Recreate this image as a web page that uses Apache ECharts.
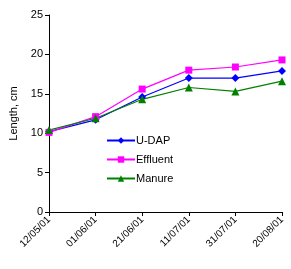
<!DOCTYPE html>
<html>
<head>
<meta charset="utf-8">
<script src="https://cdn.jsdelivr.net/npm/echarts@6/dist/echarts.min.js"></script>
<style>
  html, body { margin: 0; padding: 0; background: #fff; }
  #chart { width: 291px; height: 269px; }
</style>
</head>
<body>
<div id="chart"></div>
<script>
// 数据
const categories = ["12/05/01", "01/06/01", "21/06/01", "11/07/01", "31/07/01", "20/08/01"];
const uDap = [10.2, 11.7, 14.6, 17.0, 17.0, 17.9];
const effluent = [10.1, 12.1, 15.6, 18.0, 18.4, 19.3];
const manure = [10.4, 11.9, 14.3, 15.8, 15.3, 16.6];
const yTicks = [0, 5, 10, 15, 20, 25];

const font = "Liberation Sans, Arial, sans-serif";

const makeSeries = (name, data, color, symbol, size) => ({
  name,
  type: "line",
  data,
  symbol,
  symbolSize: size,
  showSymbol: true,
  lineStyle: { color, width: 1.2 },
  itemStyle: { color },
  animation: false,
});

const chart = echarts.init(document.getElementById("chart"), null, { renderer: "canvas" });
chart.setOption({
  backgroundColor: "#fff",
  animation: false,
  textStyle: { fontFamily: font },
  grid: { left: 49, top: 15, right: 9, bottom: 57, containLabel: false },
  legend: {
    orient: "vertical",
    left: 101,
    top: 130,
    itemWidth: 28,
    itemHeight: 8,
    itemGap: 8,
    textStyle: { fontFamily: font, fontSize: 11, color: "#000", padding: [0, 0, 0, -4] },
    data: ["U-DAP", "Effluent", "Manure"],
  },
  xAxis: {
    type: "category",
    data: categories,
    boundaryGap: false,
    axisLine: { lineStyle: { color: "#000", width: 1 } },
    axisTick: { show: true, length: 4, lineStyle: { color: "#000" } },
    axisLabel: { rotate: 45, color: "#000", fontSize: 10, fontFamily: font, margin: 6 },
    splitLine: { show: false },
  },
  yAxis: {
    type: "value",
    min: yTicks[0],
    max: yTicks[yTicks.length - 1],
    interval: 5,
    name: "Length, cm",
    nameLocation: "middle",
    nameRotate: 90,
    nameGap: 30,
    nameTextStyle: { color: "#000", fontSize: 11, fontFamily: font },
    axisLine: { show: true, lineStyle: { color: "#000", width: 1 } },
    axisTick: { show: true, length: 4, lineStyle: { color: "#000" } },
    axisLabel: { color: "#000", fontSize: 11, fontFamily: font, margin: 6 },
    splitLine: { show: false },
  },
  series: [
    makeSeries("U-DAP", uDap, "#0000FF", "diamond", 8),
    makeSeries("Effluent", effluent, "#FF00FF", "rect", 7),
    makeSeries("Manure", manure, "#008000", "triangle", 8),
  ],
});
</script>
</body>
</html>
